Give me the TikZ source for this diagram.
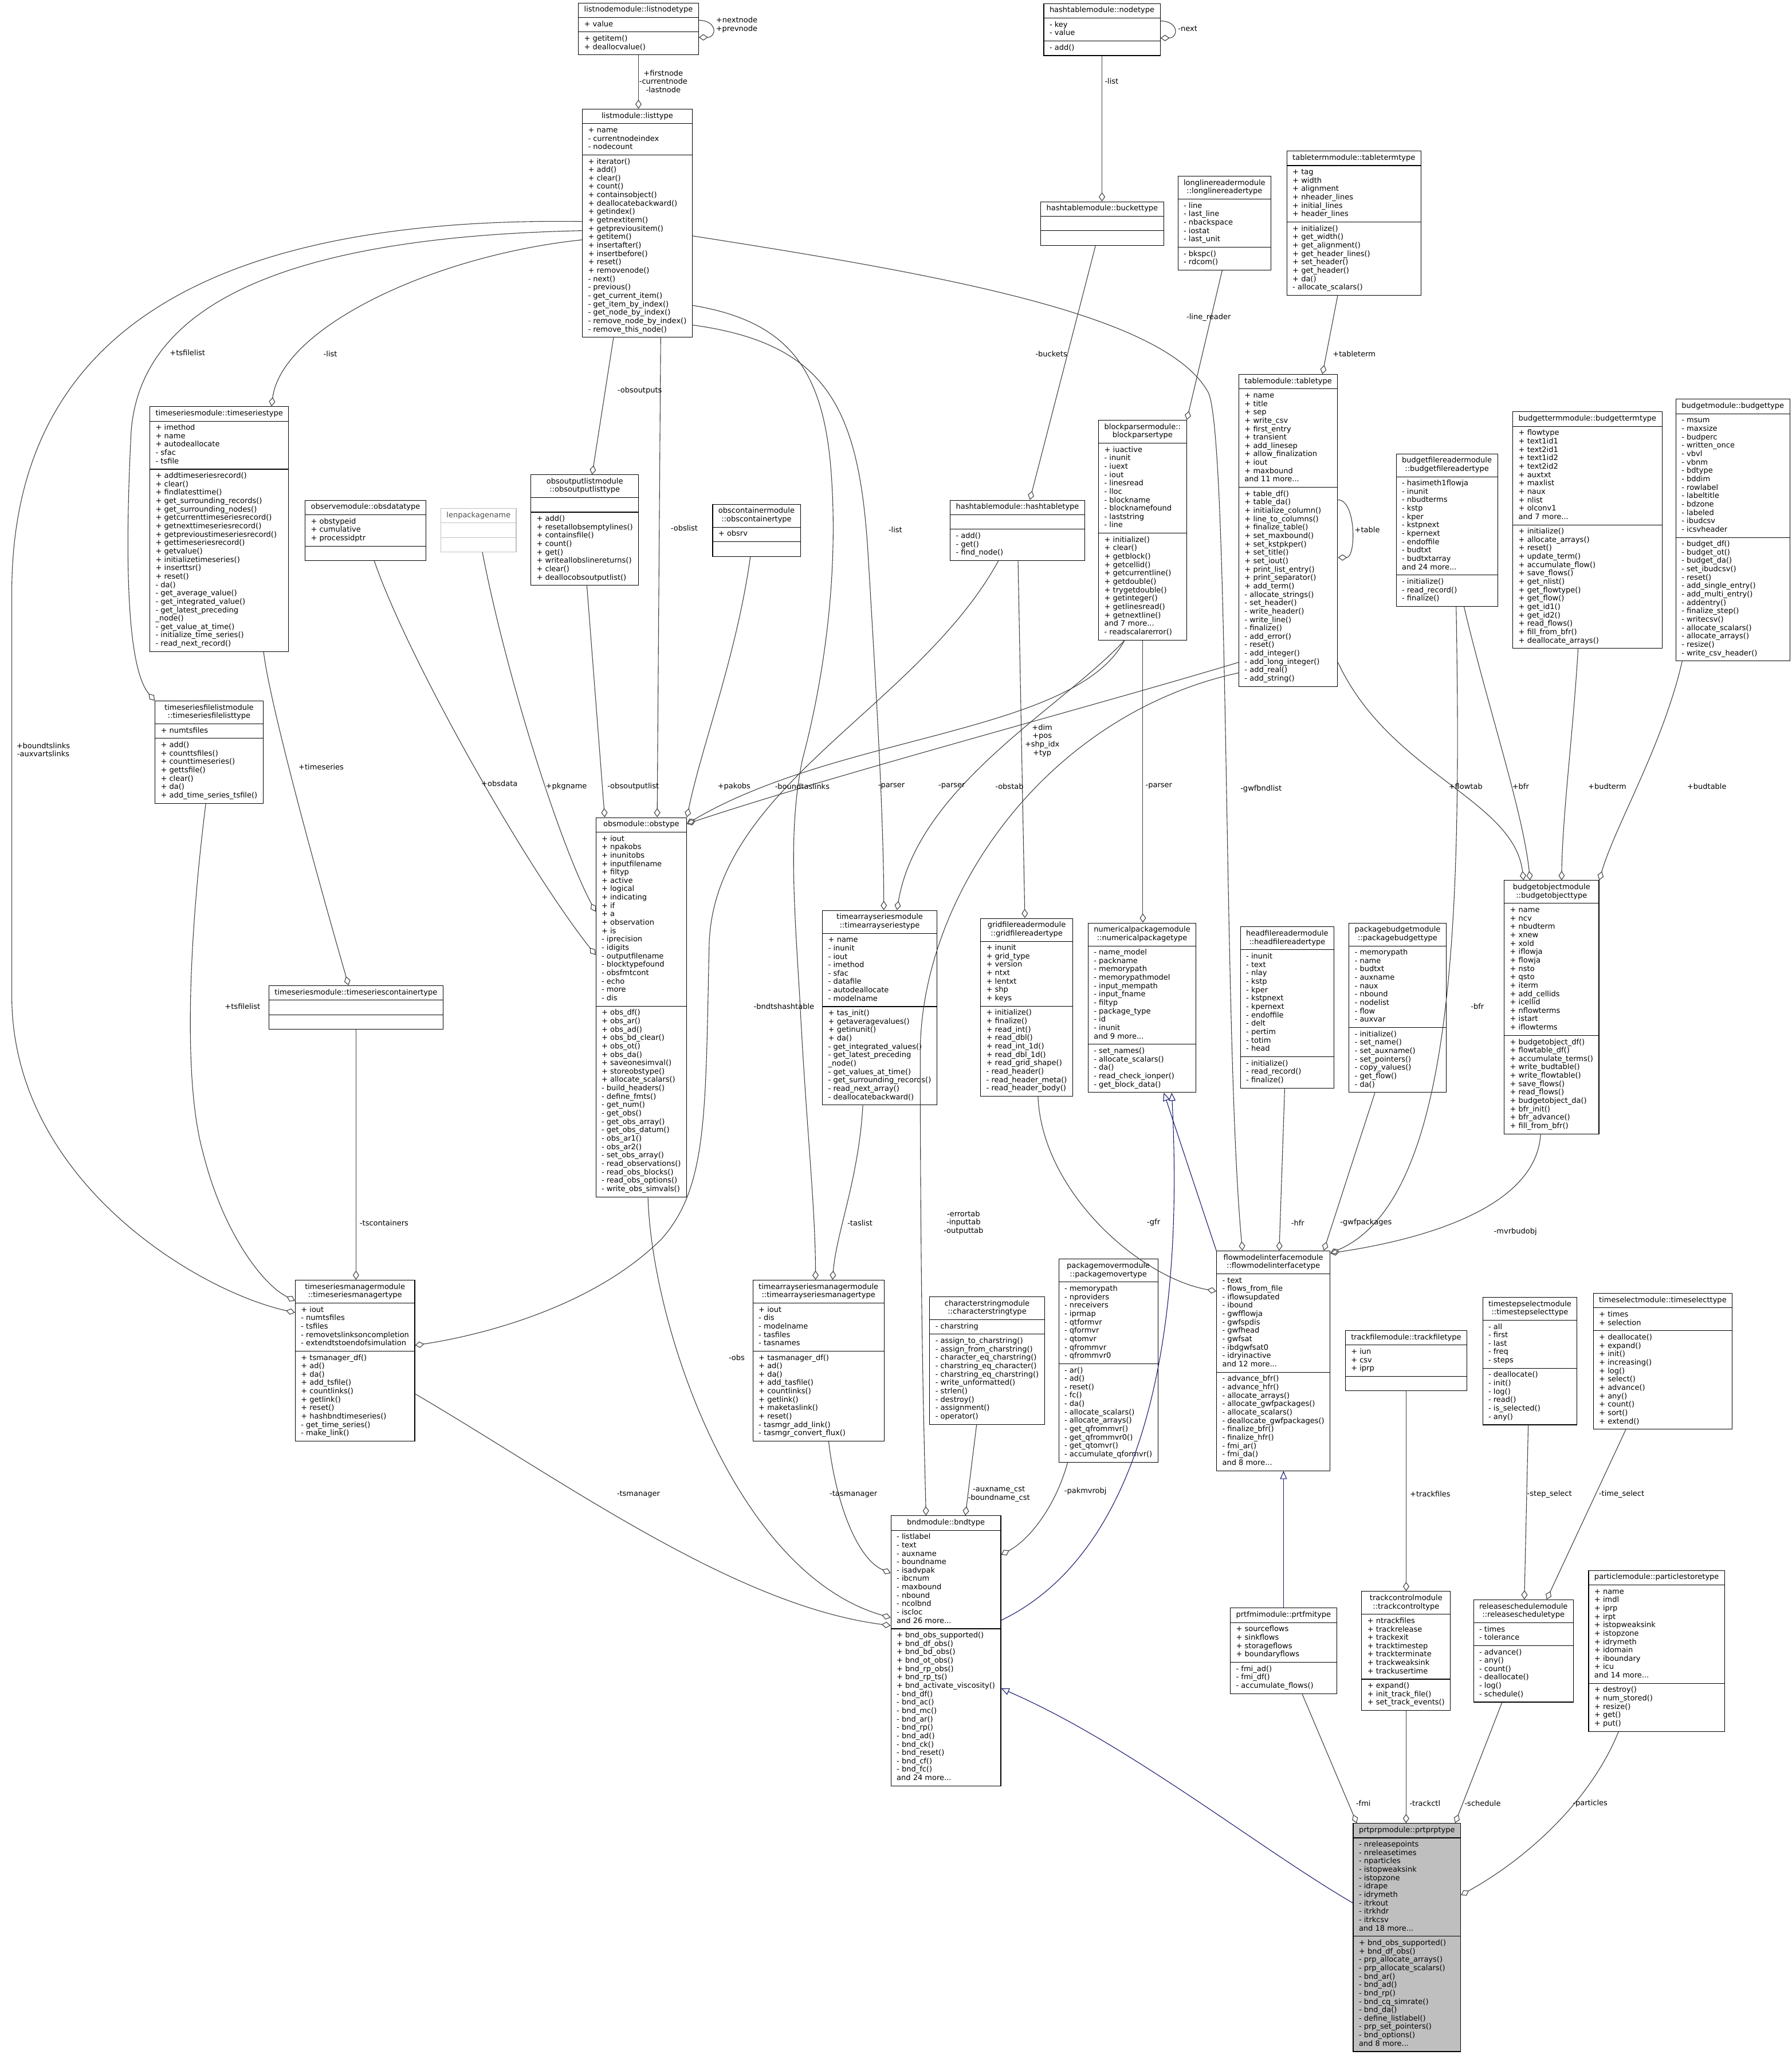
\documentclass[tikz,border=0pt]{standalone}
\usepackage{fontspec}
\setmainfont{DejaVu Sans}
\usetikzlibrary{shapes.multipart,arrows.meta,calc}

\definecolor{edgegray}{HTML}{404040}
\definecolor{inhblue}{HTML}{191970}
\definecolor{prtfill}{HTML}{BFBFBF}
\definecolor{undocgray}{HTML}{BFBFBF}

\newcommand\dxfont{\fontsize{13}{14.65}\selectfont}
\newcommand\mem[1]{\begin{tabular}{@{}l@{}}#1\end{tabular}}
\newcommand\ttl[1]{\begin{tabular}{@{}c@{}}#1\end{tabular}}

\tikzset{
  cls/.style={rectangle split, rectangle split parts=3,
    rectangle split part align={center,left,left},
    draw=black, line width=1.1pt, fill=white, anchor=north west,
    inner xsep=10pt, inner ysep=4.8pt, font=\dxfont},
  undoc/.style={cls, draw=undocgray, text=black!70},
  lbl/.style={font=\dxfont, align=center, inner sep=0pt},
  agg/.style={draw=edgegray, line width=1.1pt,
    -{Diamond[open,length=16pt,width=11pt]}},
  inh/.style={draw=inhblue, line width=1.1pt,
    -{Triangle[open,length=14pt,width=12pt]}},
}

\begin{document}
\begin{tikzpicture}[x=2.2882pt, y=-2.2876pt]
\useasboundingbox (0,0) rectangle (1367,1568);

% Classes, top row
\node[cls] (lnode) at (441,2) {\ttl{listnodemodule::listnodetype}
  \nodepart{two}\mem{+ value}
  \nodepart{three}\mem{+ getitem()\\+ deallocvalue()}};
\node[cls] (hnode) at (796,2.5) {\ttl{hashtablemodule::nodetype}
  \nodepart{two}\mem{- key\\- value}
  \nodepart{three}\mem{- add()}};
\node[cls] (listtype) at (444,83) {\ttl{listmodule::listtype}
  \nodepart{two}\mem{+ name\\- currentnodeindex\\- nodecount}
  \nodepart{three}\mem{+ iterator()\\+ add()\\+ clear()\\+ count()\\+ containsobject()\\+ deallocatebackward()\\+ getindex()\\+ getnextitem()\\+ getpreviousitem()\\+ getitem()\\+ insertafter()\\+ insertbefore()\\+ reset()\\+ removenode()\\- next()\\- previous()\\- get\_current\_item()\\- get\_item\_by\_index()\\- get\_node\_by\_index()\\- remove\_node\_by\_index()\\- remove\_this\_node()}};
\node[cls] (bucket) at (793.7,153.7) {\ttl{hashtablemodule::buckettype}
  \nodepart{two}\strut
  \nodepart{three}\strut};
\node[cls] (longline) at (898.3,134.2) {\ttl{longlinereadermodule\\::longlinereadertype}
  \nodepart{two}\mem{- line\\- last\_line\\- nbackspace\\- iostat\\- last\_unit}
  \nodepart{three}\mem{- bkspc()\\- rdcom()}};
\node[cls] (tableterm) at (981.4,115) {\ttl{tabletermmodule::tabletermtype}
  \nodepart{two}\mem{+ tag\\+ width\\+ alignment\\+ nheader\_lines\\+ initial\_lines\\+ header\_lines}
  \nodepart{three}\mem{+ initialize()\\+ get\_width()\\+ get\_alignment()\\+ get\_header\_lines()\\+ set\_header()\\+ get\_header()\\+ da()\\- allocate\_scalars()}};

% Classes, second row
\node[cls] (timeseries) at (114.1,310) {\ttl{timeseriesmodule::timeseriestype}
  \nodepart{two}\mem{+ imethod\\+ name\\+ autodeallocate\\- sfac\\- tsfile}
  \nodepart{three}\mem{+ addtimeseriesrecord()\\+ clear()\\+ findlatesttime()\\+ get\_surrounding\_records()\\+ get\_surrounding\_nodes()\\+ getcurrenttimeseriesrecord()\\+ getnexttimeseriesrecord()\\+ getprevioustimeseriesrecord()\\+ gettimeseriesrecord()\\+ getvalue()\\+ initializetimeseries()\\+ inserttsr()\\+ reset()\\- da()\\- get\_average\_value()\\- get\_integrated\_value()\\- get\_latest\_preceding\\\_node()\\- get\_value\_at\_time()\\- initialize\_time\_series()\\- read\_next\_record()}};
\node[cls] (obsdata) at (232.5,381.4) {\ttl{observemodule::obsdatatype}
  \nodepart{two}\mem{+ obstypeid\\+ cumulative\\+ processidptr}
  \nodepart{three}\strut};
\node[undoc] (lenpkg) at (336,387.7) {\ttl{lenpackagename}
  \nodepart{two}\strut
  \nodepart{three}\strut};
\node[cls] (obsoutlist) at (404.7,362) {\ttl{obsoutputlistmodule\\::obsoutputlisttype}
  \nodepart{two}\strut
  \nodepart{three}\mem{+ add()\\+ resetallobsemptylines()\\+ containsfile()\\+ count()\\+ get()\\+ writeallobslinereturns()\\+ clear()\\+ deallocobsoutputlist()}};
\node[cls] (obscont) at (543.4,384.6) {\ttl{obscontainermodule\\::obscontainertype}
  \nodepart{two}\mem{+ obsrv}
  \nodepart{three}\strut};
\node[cls] (hashtable) at (724.6,381.4) {\ttl{hashtablemodule::hashtabletype}
  \nodepart{two}\strut
  \nodepart{three}\mem{- add()\\- get()\\- find\_node()}};
\node[cls] (blockparser) at (837.8,320.4) {\ttl{blockparsermodule::\\blockparsertype}
  \nodepart{two}\mem{+ iuactive\\- inunit\\- iuext\\- iout\\- linesread\\- lloc\\- blockname\\- blocknamefound\\- laststring\\- line}
  \nodepart{three}\mem{+ initialize()\\+ clear()\\+ getblock()\\+ getcellid()\\+ getcurrentline()\\+ getdouble()\\+ trygetdouble()\\+ getinteger()\\+ getlinesread()\\+ getnextline()\\and 7 more...\\- readscalarerror()}};
\node[cls] (tabletype) at (944.8,285.4) {\ttl{tablemodule::tabletype}
  \nodepart{two}\mem{+ name\\+ title\\+ sep\\+ write\_csv\\+ first\_entry\\+ transient\\+ add\_linesep\\+ allow\_finalization\\+ iout\\+ maxbound\\and 11 more...}
  \nodepart{three}\mem{+ table\_df()\\+ table\_da()\\+ initialize\_column()\\+ line\_to\_columns()\\+ finalize\_table()\\+ set\_maxbound()\\+ set\_kstpkper()\\+ set\_title()\\+ set\_iout()\\+ print\_list\_entry()\\+ print\_separator()\\+ add\_term()\\- allocate\_strings()\\- set\_header()\\- write\_header()\\- write\_line()\\- finalize()\\- add\_error()\\- reset()\\- add\_integer()\\- add\_long\_integer()\\- add\_real()\\- add\_string()}};
\node[cls] (bfr) at (1064.8,346) {\ttl{budgetfilereadermodule\\::budgetfilereadertype}
  \nodepart{two}\mem{- hasimeth1flowja\\- inunit\\- nbudterms\\- kstp\\- kper\\- kstpnext\\- kpernext\\- endoffile\\- budtxt\\- budtxtarray\\and 24 more...}
  \nodepart{three}\mem{- initialize()\\- read\_record()\\- finalize()}};
\node[cls] (budterm) at (1153.8,314) {\ttl{budgettermmodule::budgettermtype}
  \nodepart{two}\mem{+ flowtype\\+ text1id1\\+ text2id1\\+ text1id2\\+ text2id2\\+ auxtxt\\+ maxlist\\+ naux\\+ nlist\\+ olconv1\\and 7 more...}
  \nodepart{three}\mem{+ initialize()\\+ allocate\_arrays()\\+ reset()\\+ update\_term()\\+ accumulate\_flow()\\+ save\_flows()\\+ get\_nlist()\\+ get\_flowtype()\\+ get\_flow()\\+ get\_id1()\\+ get\_id2()\\+ read\_flows()\\+ fill\_from\_bfr()\\+ deallocate\_arrays()}};
\node[cls] (budget) at (1278.2,304.4) {\ttl{budgetmodule::budgettype}
  \nodepart{two}\mem{- msum\\- maxsize\\- budperc\\- written\_once\\- vbvl\\- vbnm\\- bdtype\\- bddim\\- rowlabel\\- labeltitle\\- bdzone\\- labeled\\- ibudcsv\\- icsvheader}
  \nodepart{three}\mem{- budget\_df()\\- budget\_ot()\\- budget\_da()\\- set\_ibudcsv()\\- reset()\\- add\_single\_entry()\\- add\_multi\_entry()\\- addentry()\\- finalize\_step()\\- writecsv()\\- allocate\_scalars()\\- allocate\_arrays()\\- resize()\\- write\_csv\_header()}};

% Classes, middle
\node[cls] (tsfilelist) at (118,534.6) {\ttl{timeseriesfilelistmodule\\::timeseriesfilelisttype}
  \nodepart{two}\mem{+ numtsfiles}
  \nodepart{three}\mem{+ add()\\+ counttsfiles()\\+ counttimeseries()\\+ gettsfile()\\+ clear()\\+ da()\\+ add\_time\_series\_tsfile()}};
\node[cls] (obs) at (454.3,623.6) {\ttl{obsmodule::obstype}
  \nodepart{two}\mem{+ iout\\+ npakobs\\+ inunitobs\\+ inputfilename\\+ filtyp\\+ active\\+ logical\\+ indicating\\+ if\\+ a\\+ observation\\+ is\\- iprecision\\- idigits\\- outputfilename\\- blocktypefound\\- obsfmtcont\\- echo\\- more\\- dis}
  \nodepart{three}\mem{+ obs\_df()\\+ obs\_ar()\\+ obs\_ad()\\+ obs\_bd\_clear()\\+ obs\_ot()\\+ obs\_da()\\+ saveonesimval()\\+ storeobstype()\\+ allocate\_scalars()\\- build\_headers()\\- define\_fmts()\\- get\_num()\\- get\_obs()\\- get\_obs\_array()\\- get\_obs\_datum()\\- obs\_ar1()\\- obs\_ar2()\\- set\_obs\_array()\\- read\_observations()\\- read\_obs\_blocks()\\- read\_obs\_options()\\- write\_obs\_simvals()}};
\node[cls] (tas) at (627.2,694.4) {\ttl{timearrayseriesmodule\\::timearrayseriestype}
  \nodepart{two}\mem{+ name\\- inunit\\- iout\\- imethod\\- sfac\\- datafile\\- autodeallocate\\- modelname}
  \nodepart{three}\mem{+ tas\_init()\\+ getaveragevalues()\\+ getinunit()\\+ da()\\- get\_integrated\_values()\\- get\_latest\_preceding\\\_node()\\- get\_values\_at\_time()\\- get\_surrounding\_records()\\- read\_next\_array()\\- deallocatebackward()}};
\node[cls] (gfr) at (747.8,700.5) {\ttl{gridfilereadermodule\\::gridfilereadertype}
  \nodepart{two}\mem{+ inunit\\+ grid\_type\\+ version\\+ ntxt\\+ lentxt\\+ shp\\+ keys}
  \nodepart{three}\mem{+ initialize()\\+ finalize()\\+ read\_int()\\+ read\_dbl()\\+ read\_int\_1d()\\+ read\_dbl\_1d()\\+ read\_grid\_shape()\\- read\_header()\\- read\_header\_meta()\\- read\_header\_body()}};
\node[cls] (numpkg) at (829.8,704) {\ttl{numericalpackagemodule\\::numericalpackagetype}
  \nodepart{two}\mem{- name\_model\\- packname\\- memorypath\\- memorypathmodel\\- input\_mempath\\- input\_fname\\- filtyp\\- package\_type\\- id\\- inunit\\and 9 more...}
  \nodepart{three}\mem{- set\_names()\\- allocate\_scalars()\\- da()\\- read\_check\_ionper()\\- get\_block\_data()}};
\node[cls] (hfr) at (946,707) {\ttl{headfilereadermodule\\::headfilereadertype}
  \nodepart{two}\mem{- inunit\\- text\\- nlay\\- kstp\\- kper\\- kstpnext\\- kpernext\\- endoffile\\- delt\\- pertim\\- totim\\- head}
  \nodepart{three}\mem{- initialize()\\- read\_record()\\- finalize()}};
\node[cls] (pkgbud) at (1028.8,704) {\ttl{packagebudgetmodule\\::packagebudgettype}
  \nodepart{two}\mem{- memorypath\\- name\\- budtxt\\- auxname\\- naux\\- nbound\\- nodelist\\- flow\\- auxvar}
  \nodepart{three}\mem{- initialize()\\- set\_name()\\- set\_auxname()\\- set\_pointers()\\- copy\_values()\\- get\_flow()\\- da()}};
\node[cls] (budobj) at (1147.2,671.6) {\ttl{budgetobjectmodule\\::budgetobjecttype}
  \nodepart{two}\mem{+ name\\+ ncv\\+ nbudterm\\+ xnew\\+ xold\\+ iflowja\\+ flowja\\+ nsto\\+ qsto\\+ iterm\\+ add\_cellids\\+ icellid\\+ nflowterms\\+ istart\\+ iflowterms}
  \nodepart{three}\mem{+ budgetobject\_df()\\+ flowtable\_df()\\+ accumulate\_terms()\\+ write\_budtable()\\+ write\_flowtable()\\+ save\_flows()\\+ read\_flows()\\+ budgetobject\_da()\\+ bfr\_init()\\+ bfr\_advance()\\+ fill\_from\_bfr()}};
\node[cls] (tscont) at (204.9,751.8) {\ttl{timeseriesmodule::timeseriescontainertype}
  \nodepart{two}\strut
  \nodepart{three}\strut};

% Classes, lower rows
\node[cls] (tsmgr) at (225,976.5) {\ttl{timeseriesmanagermodule\\::timeseriesmanagertype}
  \nodepart{two}\mem{+ iout\\- numtsfiles\\- tsfiles\\- removetslinksoncompletion\\- extendtstoendofsimulation}
  \nodepart{three}\mem{+ tsmanager\_df()\\+ ad()\\+ da()\\+ add\_tsfile()\\+ countlinks()\\+ getlink()\\+ reset()\\+ hashbndtimeseries()\\- get\_time\_series()\\- make\_link()}};
\node[cls] (tasmgr) at (574.1,976.5) {\ttl{timearrayseriesmanagermodule\\::timearrayseriesmanagertype}
  \nodepart{two}\mem{+ iout\\- dis\\- modelname\\- tasfiles\\- tasnames}
  \nodepart{three}\mem{+ tasmanager\_df()\\+ ad()\\+ da()\\+ add\_tasfile()\\+ countlinks()\\+ getlink()\\+ maketaslink()\\+ reset()\\- tasmgr\_add\_link()\\- tasmgr\_convert\_flux()}};
\node[cls] (charstr) at (709,989.2) {\ttl{characterstringmodule\\::characterstringtype}
  \nodepart{two}\mem{- charstring}
  \nodepart{three}\mem{- assign\_to\_charstring()\\- assign\_from\_charstring()\\- character\_eq\_charstring()\\- charstring\_eq\_character()\\- charstring\_eq\_charstring()\\- write\_unformatted()\\- strlen()\\- destroy()\\- assignment()\\- operator()}};
\node[cls] (pkgmvr) at (807.4,960.5) {\ttl{packagemovermodule\\::packagemovertype}
  \nodepart{two}\mem{- memorypath\\- nproviders\\- nreceivers\\- iprmap\\- qtformvr\\- qformvr\\- qtomvr\\- qfrommvr\\- qfrommvr0}
  \nodepart{three}\mem{- ar()\\- ad()\\- reset()\\- fc()\\- da()\\- allocate\_scalars()\\- allocate\_arrays()\\- get\_qfrommvr()\\- get\_qfrommvr0()\\- get\_qtomvr()\\- accumulate\_qformvr()}};
\node[cls] (fmi) at (927.8,954.2) {\ttl{flowmodelinterfacemodule\\::flowmodelinterfacetype}
  \nodepart{two}\mem{- text\\- flows\_from\_file\\- iflowsupdated\\- ibound\\- gwfflowja\\- gwfspdis\\- gwfhead\\- gwfsat\\- ibdgwfsat0\\- idryinactive\\and 12 more...}
  \nodepart{three}\mem{- advance\_bfr()\\- advance\_hfr()\\- allocate\_arrays()\\- allocate\_gwfpackages()\\- allocate\_scalars()\\- deallocate\_gwfpackages()\\- finalize\_bfr()\\- finalize\_hfr()\\- fmi\_ar()\\- fmi\_da()\\and 8 more...}};
\node[cls] (trackfile) at (1026,1015) {\ttl{trackfilemodule::trackfiletype}
  \nodepart{two}\mem{+ iun\\+ csv\\+ iprp}
  \nodepart{three}\strut};
\node[cls] (tsselect) at (1130.8,989.6) {\ttl{timestepselectmodule\\::timestepselecttype}
  \nodepart{two}\mem{- all\\- first\\- last\\- freq\\- steps}
  \nodepart{three}\mem{- deallocate()\\- init()\\- log()\\- read()\\- is\_selected()\\- any()}};
\node[cls] (timesel) at (1215.2,986.6) {\ttl{timeselectmodule::timeselecttype}
  \nodepart{two}\mem{+ times\\+ selection}
  \nodepart{three}\mem{+ deallocate()\\+ expand()\\+ init()\\+ increasing()\\+ log()\\+ select()\\+ advance()\\+ any()\\+ count()\\+ sort()\\+ extend()}};
\node[cls] (bnd) at (679.4,1156.3) {\ttl{bndmodule::bndtype}
  \nodepart{two}\mem{- listlabel\\- text\\- auxname\\- boundname\\- isadvpak\\- ibcnum\\- maxbound\\- nbound\\- ncolbnd\\- iscloc\\and 26 more...}
  \nodepart{three}\mem{+ bnd\_obs\_supported()\\+ bnd\_df\_obs()\\+ bnd\_bd\_obs()\\+ bnd\_ot\_obs()\\+ bnd\_rp\_obs()\\+ bnd\_rp\_ts()\\+ bnd\_activate\_viscosity()\\- bnd\_df()\\- bnd\_ac()\\- bnd\_mc()\\- bnd\_ar()\\- bnd\_rp()\\- bnd\_ad()\\- bnd\_ck()\\- bnd\_reset()\\- bnd\_cf()\\- bnd\_fc()\\and 24 more...}};
\node[cls] (prtfmi) at (938.3,1226.7) {\ttl{prtfmimodule::prtfmitype}
  \nodepart{two}\mem{+ sourceflows\\+ sinkflows\\+ storageflows\\+ boundaryflows}
  \nodepart{three}\mem{- fmi\_ad()\\- fmi\_df()\\- accumulate\_flows()}};
\node[cls] (trackctl) at (1038.5,1214) {\ttl{trackcontrolmodule\\::trackcontroltype}
  \nodepart{two}\mem{+ ntrackfiles\\+ trackrelease\\+ trackexit\\+ tracktimestep\\+ trackterminate\\+ trackweaksink\\+ trackusertime}
  \nodepart{three}\mem{+ expand()\\+ init\_track\_file()\\+ set\_track\_events()}};
\node[cls] (relsched) at (1123.8,1220.4) {\ttl{releaseschedulemodule\\::releasescheduletype}
  \nodepart{two}\mem{- times\\- tolerance}
  \nodepart{three}\mem{- advance()\\- any()\\- count()\\- deallocate()\\- log()\\- schedule()}};
\node[cls] (particles) at (1211.6,1198) {\ttl{particlemodule::particlestoretype}
  \nodepart{two}\mem{+ name\\+ imdl\\+ iprp\\+ irpt\\+ istopweaksink\\+ istopzone\\+ idrymeth\\+ idomain\\+ iboundary\\+ icu\\and 14 more...}
  \nodepart{three}\mem{+ destroy()\\+ num\_stored()\\+ resize()\\+ get()\\+ put()}};
\node[cls, fill=prtfill] (prtprp) at (1032,1391) {\ttl{prtprpmodule::prtprptype}
  \nodepart{two}\mem{- nreleasepoints\\- nreleasetimes\\- nparticles\\- istopweaksink\\- istopzone\\- idrape\\- idrymeth\\- itrkout\\- itrkhdr\\- itrkcsv\\and 18 more...}
  \nodepart{three}\mem{+ bnd\_obs\_supported()\\+ bnd\_df\_obs()\\- prp\_allocate\_arrays()\\- prp\_allocate\_scalars()\\- bnd\_ar()\\- bnd\_ad()\\- bnd\_rp()\\- bnd\_cq\_simrate()\\- bnd\_da()\\- define\_listlabel()\\- prp\_set\_pointers()\\- bnd\_options()\\and 8 more...}};

% Usage edges (diamond at the owner)
\draw[agg] (lnode.south) -- (lnode.south |- listtype.north);
\draw[agg] ($(lnode.north east)+(0,13.5)$) .. controls +(14,0) and +(14,0) .. ($(lnode.north east)+(0,26.5)$);
\draw[agg] ($(hnode.north east)+(0,13.5)$) .. controls +(14,0) and +(14,0) .. ($(hnode.north east)+(0,26.5)$);
\draw[agg] (hnode.south) -- (hnode.south |- bucket.north);
\draw[agg] ($(bucket.south west)+(42,0)$) -- ($(hashtable.north west)+(61,0)$);
\draw[agg] ($(longline.south west)+(34,0)$) -- (blockparser.north east);
\draw[agg] ($(tableterm.south west)+(39,0)$) -- ($(tabletype.north west)+(64,0)$);
\draw[agg] ($(tabletype.north east)+(0,96)$) .. controls +(14,0) and +(14,0) .. ($(tabletype.north east)+(0,140)$);
\draw[agg] ($(listtype.north west)+(0,100)$) .. controls (330,195) and (215,250) .. ($(timeseries.north west)+(93,0)$);
\draw[agg] ($(listtype.north west)+(0,93)$) .. controls (260,180) and (108,215) .. (100,330) .. controls (95,430) and (97,510) .. (tsfilelist.north west);
\draw[agg] ($(listtype.north west)+(0,86)$) .. controls (150,165) and (10,260) .. (9,450) -- (9,760) .. controls (9,900) and (150,985) .. ($(tsmgr.north west)+(0,25)$);
\draw[agg] ($(listtype.south west)+(24,0)$) -- ($(obsoutlist.north west)+(47,0)$);
\draw[agg] ($(listtype.south west)+(60,0)$) -- ($(obs.north west)+(47,0)$);
\draw[agg] ($(listtype.north east)+(0,165)$) .. controls (630,262) and (655,310) .. (662,420) .. controls (668,520) and (674,620) .. ($(tas.north west)+(47,0)$);
\draw[agg] ($(listtype.north east)+(0,150)$) .. controls (600,245) and (628,280) .. (634,360) .. controls (640,440) and (628,520) .. (612,580) .. controls (602,630) and (605,680) .. (610,760) .. controls (615,860) and (622,920) .. ($(tasmgr.north west)+(48,0)$);
\draw[agg] ($(listtype.north east)+(0,97)$) .. controls (720,210) and (890,240) .. (922,300) .. controls (938,340) and (933,800) .. ($(fmi.north west)+(20,0)$);
\draw[agg] ($(timeseries.south west)+(87,0)$) .. controls (206,540) and (248,690) .. ($(tscont.north west)+(61,0)$);
\draw[agg] ($(tsfilelist.south west)+(39,0)$) .. controls (146,700) and (138,820) .. (155,880) .. controls (170,940) and (200,980) .. ($(tsmgr.north west)+(0,16)$);
\draw[agg] (tscont.south) -- (tscont.south |- tsmgr.north);
\draw[agg] ($(obsdata.south west)+(53,0)$) .. controls (310,500) and (400,660) .. ($(obs.north west)+(0,105)$);
\draw[agg] ($(lenpkg.south west)+(32,0)$) .. controls (385,510) and (425,640) .. ($(obs.north west)+(0,72)$);
\draw[agg] ($(obsoutlist.south west)+(43,0)$) -- ($(obs.north west)+(7,0)$);
\draw[agg] ($(obscont.south west)+(29,0)$) .. controls (562,500) and (535,570) .. (obs.north east);
\draw[agg] ($(blockparser.south west)+(20,0)$) .. controls (820,560) and (640,560) .. ($(obs.north east)+(0,5)$);
\draw[agg] ($(blockparser.south west)+(20,0)$) .. controls (810,540) and (700,600) .. ($(tas.north west)+(57,0)$);
\draw[agg] ($(tabletype.north west)+(0,220)$) .. controls (830,540) and (640,590) .. ($(obs.north east)+(0,5)$);
\draw[agg] ($(hashtable.south west)+(52,0)$) -- ($(gfr.north west)+(34,0)$);
\draw[agg] ($(blockparser.south west)+(34,0)$) -- ($(numpkg.north west)+(42,0)$);
\draw[agg] ($(tabletype.north east)+(0,220)$) .. controls (1060,590) and (1155,610) .. ($(budobj.north west)+(15,0)$);
\draw[agg] ($(bfr.south west)+(52,0)$) .. controls (1135,540) and (1162,620) .. ($(budobj.north west)+(20,0)$);
\draw[agg] ($(budterm.south west)+(50,0)$) .. controls (1200,560) and (1192,620) .. ($(budobj.north west)+(44,0)$);
\draw[agg] ($(budget.south west)+(5,0)$) .. controls (1268,570) and (1232,630) .. (budobj.north east);
\draw[agg] ($(gfr.south west)+(44,0)$) .. controls (795,910) and (870,975) .. ($(fmi.north west)+(0,31)$);
\draw[agg] ($(hfr.south west)+(34,0)$) -- ($(fmi.north west)+(48,0)$);
\draw[agg] ($(pkgbud.south west)+(20,0)$) -- ($(fmi.north west)+(82,0)$);
\draw[agg] ($(budobj.south west)+(28,0)$) .. controls (1172,920) and (1090,945) .. ($(fmi.north east)+(0,2)$);
\draw[agg] ($(bfr.south west)+(46,0)$) .. controls (1115,700) and (1110,915) .. ($(fmi.north east)+(0,2)$);
\draw[agg] ($(prtfmi.south west)+(55,0)$) -- ($(prtprp.north west)+(3,0)$);
\draw[agg] (trackctl.south) -- (trackctl.south |- prtprp.north);
\draw[agg] ($(relsched.south west)+(22,0)$) -- ($(prtprp.north west)+(78,0)$);
\draw[agg] ($(particles.south west)+(23,0)$) .. controls (1215,1370) and (1170,1415) .. ($(prtprp.north east)+(0,55)$);
\draw[agg] (trackfile.south) -- (trackfile.south |- trackctl.north);
\draw[agg] ($(tsselect.south west)+(35,0)$) -- ($(relsched.north west)+(39,0)$);
\draw[agg] ($(timesel.south west)+(25,0)$) -- ($(relsched.north west)+(56,0)$);
\draw[agg] ($(tas.south west)+(31,0)$) .. controls (655,900) and (638,940) .. ($(tasmgr.north west)+(61,0)$);
\draw[agg] ($(tsmgr.north east)+(0,87)$) .. controls (430,1130) and (560,1225) .. ($(bnd.north west)+(0,84)$);
\draw[agg] ($(obs.south west)+(40,0)$) .. controls (497,1010) and (560,1200) .. ($(bnd.north west)+(0,78)$);
\draw[agg] ($(tasmgr.south west)+(58,0)$) .. controls (638,1150) and (655,1190) .. ($(bnd.north west)+(0,44)$);
\draw[agg] ($(charstr.south west)+(36,0)$) -- ($(bnd.north west)+(57,0)$);
\draw[agg] ($(pkgmvr.south west)+(7,0)$) .. controls (805,1150) and (785,1175) .. ($(bnd.north east)+(0,30)$);
\draw[agg] ($(tabletype.north west)+(0,228)$) .. controls (800,545) and (704,680) .. (702,800) .. controls (702,1000) and (705,1100) .. ($(bnd.north west)+(27,0)$);
\draw[agg] ($(hashtable.south west)+(37,0)$) .. controls (700,540) and (545,600) .. (541,720) .. controls (538,850) and (540,905) .. (505,945) .. controls (450,1000) and (360,1020) .. ($(tsmgr.north east)+(0,50)$);

% Inheritance edges
\draw[inh] (fmi.north west) -- ($(numpkg.south west)+(58,0)$);
\draw[inh] ($(bnd.north east)+(0,80)$) .. controls (860,1190) and (905,1050) .. ($(numpkg.south west)+(64,0)$);
\draw[inh] (prtfmi.north) -- (prtfmi.north |- fmi.south);
\draw[inh] ($(prtprp.north west)+(0,61)$) .. controls (960,1410) and (860,1330) .. ($(bnd.north east)+(0,132)$);

% Edge labels
\foreach \n/\x/\y/\txt in {
  1/506/62/{+firstnode\\-currentnode\\-lastnode}, 2/562/19/{+nextnode\\+prevnode},
  3/906/22/{-next}, 4/848/62/{-list}, 5/802/270/{-buckets}, 6/922/242/{-line\_reader},
  7/1033/270/{+tableterm}, 8/1043/404/{+table}, 9/252/270/{-list}, 10/143/269/{+tsfilelist},
  11/33/572/{+boundtslinks\\-auxvartslinks}, 12/245/585/{+timeseries}, 13/185/768/{+tsfilelist},
  14/293/933/{-tscontainers}, 15/381/598/{+obsdata}, 16/432/600/{+pkgname},
  17/483/600/{-obsoutputlist}, 18/488/298/{-obsoutputs}, 19/522/403/{-obslist},
  20/560/600/{+pakobs}, 21/612/600/{-boundtaslinks}, 22/680/600/{-parser},
  23/726/600/{-parser}, 24/770/600/{-obstab}, 25/795/565/{+dim\\+pos\\+shp\_idx\\+typ},
  26/884/600/{-parser}, 27/962/602/{-gwfbndlist}, 28/683/404/{-list},
  29/1118/600/{+flowtab}, 30/1160/600/{+bfr}, 31/1226/600/{+budterm}, 32/1302/600/{+budtable},
  33/598/768/{-bndtshashtable}, 34/1127/768/{-bfr}, 35/735/933/{-errortab\\-inputtab\\-outputtab},
  36/880/933/{-gfr}, 37/990/933/{-hfr}, 38/1042/933/{-gwfpackages}, 39/1156/940/{-mvrbudobj},
  40/656/933/{-taslist}, 41/562/1036/{-obs}, 42/487/1140/{-tsmanager}, 43/651/1140/{-tasmanager},
  44/762/1140/{-auxname\_cst\\-boundname\_cst}, 45/828/1138/{-pakmvrobj},
  46/1091/1140/{+trackfiles}, 47/1182/1140/{-step\_select}, 48/1237/1140/{-time\_select},
  49/1040/1376/{-fmi}, 50/1087/1376/{-trackctl}, 51/1131/1376/{-schedule}, 52/1213/1376/{-particles}}
  \node[lbl] (lab\n) at (\x,\y) {\txt};

\end{tikzpicture}
\end{document}
